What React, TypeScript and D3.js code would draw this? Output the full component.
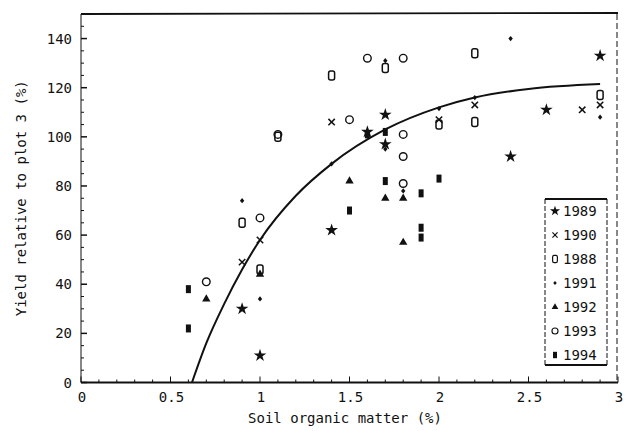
import React from "react";
import * as d3 from "d3";

// ---------- data ----------
const xTicks = [0, 0.5, 1, 1.5, 2, 2.5, 3];
const xTickLabels = ["0", "0.5", "1", "1.5", "2", "2.5", "3"];
const yTicks = [0, 20, 40, 60, 80, 100, 120, 140];

const y1989: [number, number][] = [[0.9, 30], [1.0, 11], [1.4, 62], [1.6, 102], [1.7, 109], [1.7, 97], [2.4, 92], [2.6, 111], [2.9, 133]];
const y1990: [number, number][] = [[0.9, 49], [1.0, 58], [1.4, 106], [2.0, 107], [2.2, 113], [2.8, 111], [2.9, 113]];
const y1988: [number, number][] = [[0.9, 65], [1.0, 46], [1.1, 100], [1.4, 125], [1.7, 128], [2.0, 105], [2.2, 134], [2.2, 106], [2.9, 117]];
const y1991: [number, number][] = [[0.9, 74], [1.0, 34], [1.4, 89], [1.7, 95], [1.7, 131], [1.8, 78], [2.0, 111.5], [2.2, 116], [2.4, 140], [2.9, 108]];
const y1992: [number, number][] = [[0.7, 34], [1.0, 44], [1.5, 82], [1.7, 75], [1.8, 75], [1.8, 57]];
const y1993: [number, number][] = [[0.7, 41], [1.0, 67], [1.1, 101], [1.5, 107], [1.6, 132], [1.8, 132], [1.8, 101], [1.8, 92], [1.8, 81]];
const y1994: [number, number][] = [[0.6, 38], [0.6, 22], [1.5, 70], [1.6, 101], [1.7, 102], [1.7, 82], [1.9, 77], [1.9, 59], [1.9, 63], [2.0, 83]];

const curveX = [0.62, 0.7, 0.8, 0.9, 1.0, 1.2, 1.4, 1.7, 2.0, 2.2, 2.5, 2.9];
const curveY = [0, 16, 32, 46, 58, 76, 89, 103, 112, 116, 119.5, 121.5];

const legendYears = ["1989", "1990", "1988", "1991", "1992", "1993", "1994"];
const seriesList = [y1989, y1990, y1988, y1991, y1992, y1993, y1994];

const INK = "#111";
const FONT = "'DejaVu Sans Mono', 'Liberation Mono', monospace";

function Marker({ kind, x, y, s = 1 }: { kind: string; x: number; y: number; s?: number }) {
  const tr = `translate(${x},${y}) scale(${s})`;
  switch (kind) {
    case "1989":
      return <path d={d3.symbol().type(d3.symbolStar).size(50)() as string} transform={tr} fill={INK} />;
    case "1990":
      return (
        <g transform={tr} stroke={INK} strokeWidth={1.5}>
          <line x1={-3.2} y1={-3.2} x2={3.2} y2={3.2} />
          <line x1={-3.2} y1={3.2} x2={3.2} y2={-3.2} />
        </g>
      );
    case "1988":
      return <rect transform={tr} x={-3} y={-4.5} width={6} height={9} rx={2} fill="none" stroke={INK} strokeWidth={1.5} />;
    case "1991":
      return <path transform={tr} d="M0,-2.6L2.2,0L0,2.6L-2.2,0Z" fill={INK} />;
    case "1992":
      return <path d={d3.symbol().type(d3.symbolTriangle).size(30)() as string} transform={tr} fill={INK} />;
    case "1993":
      return <circle transform={tr} cx={0} cy={0} r={3.8} fill="none" stroke={INK} strokeWidth={1.4} />;
    default:
      return <rect transform={tr} x={-2.5} y={-4} width={5} height={8} fill={INK} />;
  }
}

export default function App() {
  const W = 631, H = 431;
  const left = 81, right = 618, top = 14, bottom = 382.5;
  const x = d3.scaleLinear().domain([0, 3]).range([left, right]);
  const y = d3.scaleLinear().domain([0, 150]).range([bottom, top]);

  const line = d3.line<number>()
    .x((_, i) => x(curveX[i]))
    .y((d) => y(d))
    .curve(d3.curveMonotoneX);

  const minorY = d3.range(0, 151, 5).filter((v) => v % 20 !== 0);
  const minorX = d3.range(0, 30, 1).map((v) => v / 10).filter((v) => Math.abs(v * 2 - Math.round(v * 2)) > 1e-6);

  const lgLeft = 545, lgRight = 607, lgTop = 199, lgBottom = 365;
  const lgY = d3.scaleLinear().domain([0, 6]).range([211, 355]);

  return (
    <svg width={W} height={H} style={{ position: "absolute", left: 0, top: 0, background: "#fff" }} fontFamily={FONT}>
      <rect x={0} y={0} width={W} height={H} fill="#fff" />
      {/* frame */}
      <line x1={left} y1={top} x2={right} y2={top - 1} stroke={INK} strokeWidth={1.8} />
      <line x1={left} y1={bottom} x2={right} y2={bottom} stroke={INK} strokeWidth={2} />
      <line x1={left} y1={top} x2={left} y2={bottom} stroke={INK} strokeWidth={1} />
      <line x1={right - 1} y1={top} x2={right - 1} y2={bottom} stroke={INK} strokeWidth={1} strokeDasharray="6,3" />

      {/* y ticks */}
      {yTicks.map((t) => (
        <g key={"yt" + t}>
          <line x1={left} x2={left + 6} y1={y(t)} y2={y(t)} stroke={INK} strokeWidth={1.5} />
          <text x={72} y={y(t) + 5} textAnchor="end" fontSize={14} fill={INK}>{t}</text>
        </g>
      ))}
      {minorY.map((t) => (
        <line key={"ym" + t} x1={left} x2={left + 3} y1={y(t)} y2={y(t)} stroke={INK} strokeWidth={1} />
      ))}
      {/* x ticks */}
      {xTicks.map((t, i) => (
        <g key={"xt" + t}>
          <line x1={x(t)} x2={x(t)} y1={bottom} y2={bottom - 6} stroke={INK} strokeWidth={1} />
          <text x={x(t) + 1} y={402} textAnchor="middle" fontSize={14} fill={INK}>{xTickLabels[i]}</text>
        </g>
      ))}
      {minorX.map((t) => (
        <line key={"xm" + t} x1={x(t)} x2={x(t)} y1={bottom} y2={bottom - 3} stroke={INK} strokeWidth={1} />
      ))}

      {/* axis titles */}
      <text x={345} y={423} textAnchor="middle" fontSize={14} fill={INK}>Soil organic matter (%)</text>
      <text transform={`translate(26,${(top + bottom) / 2}) rotate(-90)`} textAnchor="middle" fontSize={14} fill={INK}>Yield relative to plot 3 (%)</text>

      {/* fitted curve */}
      <path d={line(curveY) as string} fill="none" stroke={INK} strokeWidth={2} />

      {/* points */}
      {seriesList.map((s, si) =>
        s.map(([px, py], i) => <Marker key={si + "-" + i} kind={legendYears[si]} x={x(px)} y={y(py)} />)
      )}

      {/* legend */}
      <rect x={lgLeft} y={lgTop} width={lgRight - lgLeft} height={lgBottom - lgTop} fill="#fff" stroke="none" />
      <line x1={lgLeft} y1={lgTop} x2={lgRight} y2={lgTop} stroke={INK} strokeWidth={1.8} />
      <line x1={lgLeft} y1={lgBottom} x2={lgRight} y2={lgBottom} stroke={INK} strokeWidth={1.8} />
      <line x1={lgLeft} y1={lgTop} x2={lgLeft} y2={lgBottom} stroke={INK} strokeWidth={1} strokeDasharray="5,2" />
      <line x1={lgRight} y1={lgTop} x2={lgRight} y2={lgBottom} stroke={INK} strokeWidth={1} strokeDasharray="5,2" />
      {legendYears.map((yr, i) => (
        <g key={"lg" + yr}>
          <Marker kind={yr} x={555} y={lgY(i)} s={0.8} />
          <text x={563} y={lgY(i) + 5} fontSize={14} fill={INK}>{yr}</text>
        </g>
      ))}
    </svg>
  );
}
